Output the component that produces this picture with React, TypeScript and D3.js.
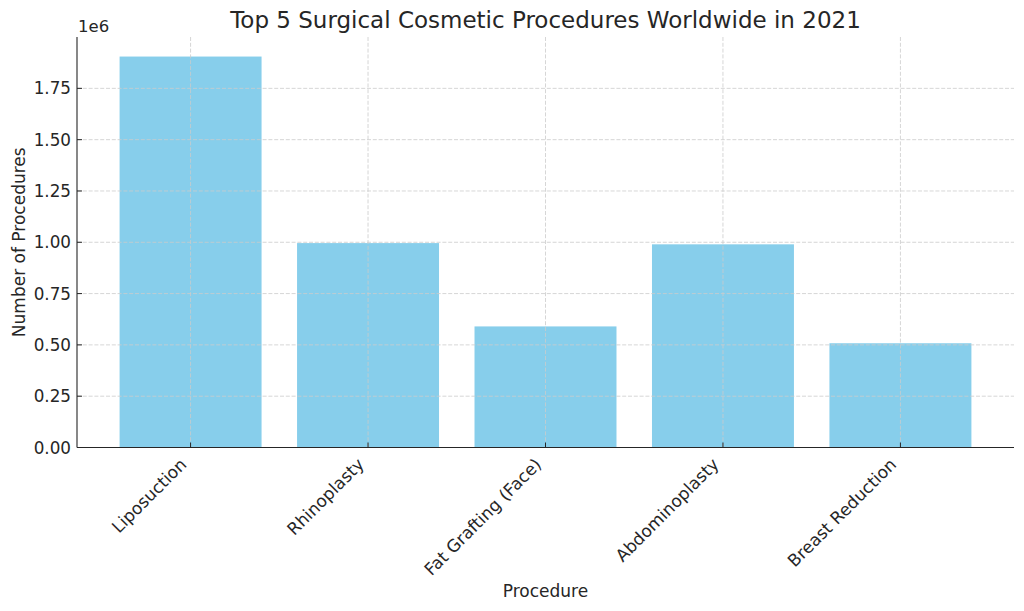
import React from "react";
import * as d3 from "d3";

const categories = ["Liposuction", "Rhinoplasty", "Fat Grafting (Face)", "Abdominoplasty", "Breast Reduction"];
const values = [1905000, 996000, 590000, 990000, 508000];
const yTicks = [0, 0.25, 0.5, 0.75, 1.0, 1.25, 1.5, 1.75];

const W = 1024, H = 611;
const left = 77, right = 1014, top = 37, bottom = 447.5;
const font = "'DejaVu Sans', sans-serif";
const textColor = "#262626";

export default function App() {
  const n = categories.length;
  const x = d3.scaleLinear().domain([-0.4 - 0.05 * (n - 0.2), n - 1 + 0.4 + 0.05 * (n - 0.2)]).range([left, right]);
  const ymax = (d3.max(values) as number) * 1.05;
  const y = d3.scaleLinear().domain([0, ymax]).range([bottom, top]);
  const barW = x(0.8) - x(0);
  const gridStyle = { stroke: "#cccccc", strokeWidth: 0.8, strokeDasharray: "4,1.8" };

  return (
    <svg width={W} height={H} style={{ position: "absolute", left: 0, top: 0 }} fontFamily={font}>
      <rect width={W} height={H} fill="#fff" />
      {values.map((v, i) => (
        <rect key={i} x={x(i) - barW / 2} y={y(v)} width={barW} height={bottom - y(v)} fill="#87CEEB" />
      ))}
      {yTicks.map((t) => (
        <line key={"gy" + t} x1={left} x2={right} y1={y(t * 1e6)} y2={y(t * 1e6)} {...gridStyle} />
      ))}
      {categories.map((c, i) => (
        <line key={"gx" + i} x1={x(i)} x2={x(i)} y1={top} y2={bottom} {...gridStyle} />
      ))}
      <line x1={left} x2={left} y1={top} y2={bottom} stroke={textColor} strokeWidth={1.1} />
      <line x1={left} x2={right} y1={bottom} y2={bottom} stroke={textColor} strokeWidth={1.1} />
      {yTicks.map((t) => (
        <g key={"ty" + t}>
          <line x1={left} x2={left + 5} y1={y(t * 1e6)} y2={y(t * 1e6)} stroke={textColor} strokeWidth={1} />
          <text x={left - 6} y={y(t * 1e6)} dy="0.36em" textAnchor="end" fontSize={16.8} fill={textColor}>
            {t.toFixed(2)}
          </text>
        </g>
      ))}
      {categories.map((c, i) => (
        <g key={"tx" + i}>
          <line x1={x(i)} x2={x(i)} y1={bottom} y2={bottom - 5} stroke={textColor} strokeWidth={1} />
          <text
            transform={`translate(${x(i) - 3},${bottom + 18}) rotate(-45)`}
            textAnchor="end"
            fontSize={17}
            fill={textColor}
          >
            {c}
          </text>
        </g>
      ))}
      <text x={left + 1} y={32} fontSize={16.5} fill={textColor}>1e6</text>
      <text x={(left + right) / 2} y={28} textAnchor="middle" fontSize={23} fill={textColor}>
        Top 5 Surgical Cosmetic Procedures Worldwide in 2021
      </text>
      <text x={(left + right) / 2} y={597} textAnchor="middle" fontSize={17} fill={textColor}>
        Procedure
      </text>
      <text transform={`translate(25,${(top + bottom) / 2}) rotate(-90)`} textAnchor="middle" fontSize={17} fill={textColor}>
        Number of Procedures
      </text>
    </svg>
  );
}
